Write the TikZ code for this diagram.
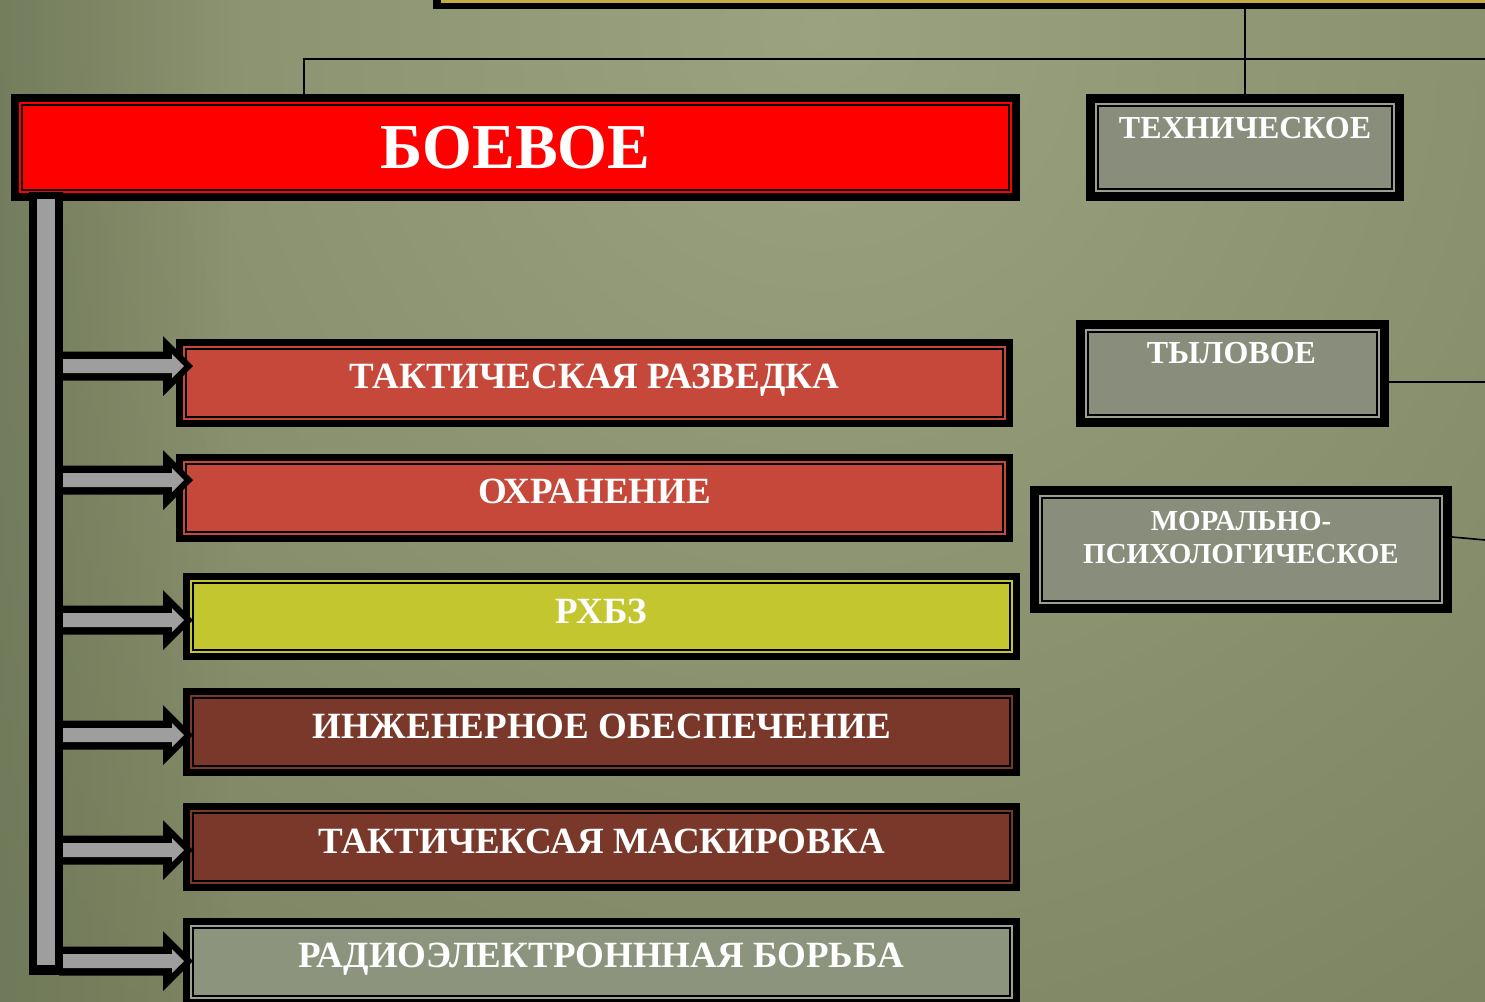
\documentclass[tikz,border=0pt]{standalone}
\usepackage{fontspec}
\setmainfont{Liberation Serif}
\usetikzlibrary{calc,fadings}
\definecolor{bgbase}{RGB}{125,132,97}
\definecolor{bglight}{RGB}{155,162,128}
\definecolor{bgdark}{RGB}{104,114,84}
\definecolor{boxred}{RGB}{197,72,58}
\definecolor{pureRed}{RGB}{255,0,0}
\definecolor{boxyel}{RGB}{196,198,48}
\definecolor{boxbrown}{RGB}{121,56,42}
\definecolor{boxgreen}{RGB}{140,148,126}
\definecolor{boxgray}{RGB}{136,141,124}
\definecolor{stripegray}{RGB}{156,160,146}
\definecolor{bargray}{RGB}{158,158,158}
\definecolor{goldline}{RGB}{196,172,64}
\newcommand\myarrow[1]{%
  \begin{scope}[shift={(#1)}]
    \fill[black] (-127,-14.5) -- (-23,-14.5) -- (-23,-30) -- (7,0) -- (-23,30) -- (-23,14.5) -- (-127,14.5) -- cycle;
    \fill[bargray] (-123,-7) -- (-14,-7) -- (-14,-12) -- (-2,0) -- (-14,12) -- (-14,7) -- (-123,7) -- cycle;
  \end{scope}}
\begin{document}
\begin{tikzpicture}[x=1pt,y=-1pt,
  panel/.style n args={3}{rectangle, inner sep=0pt, outer sep=0pt, fill=black,
    path picture={
      \fill[#2] ([shift={(#3,-#3)}]path picture bounding box.north west) rectangle ([shift={(-#3,#3)}]path picture bounding box.south east);
      \fill[black] ([shift={(#3,-#3)},shift={(2pt,-2pt)}]path picture bounding box.north west) rectangle ([shift={(-#3,#3)},shift={(-2pt,2pt)}]path picture bounding box.south east);
      \fill[#1] ([shift={(#3,-#3)},shift={(3.7pt,-3.7pt)}]path picture bounding box.north west) rectangle ([shift={(-#3,#3)},shift={(-3.7pt,3.7pt)}]path picture bounding box.south east);
    }},
  lbl/.style={text=white, anchor=base, inner sep=0pt, font=\bfseries\fontsize{#1}{#1}\selectfont},
  conn/.style={draw=black, line width=1.6pt}]
\useasboundingbox (0,0) rectangle (1485,1001);
\clip (0,0) rectangle (1485,1001);
% background
\fill[bgbase] (-20,-20) rectangle (1505,1021);
\shade[inner color=bglight, outer color=bgbase] (820,30) circle (1200);
\fill[bgdark, path fading=east, fill opacity=0.7] (-40,-40) rectangle (230,1041);
% top (partly visible) box
\node[fill=black, inner sep=0pt, minimum width=1100pt, minimum height=60pt, anchor=south west] (top) at (433,9) {};
\fill[goldline] (441,-60) rectangle (1500,3);
% boxes
\node[panel={pureRed}{pureRed}{8pt}, minimum width=1009pt, minimum height=107pt] (B0) at (515.5,147.5) {};
\node[panel={boxred}{boxred}{7pt}, minimum width=837pt, minimum height=88pt] (B1) at (594.5,383) {};
\node[panel={boxred}{boxred}{7pt}, minimum width=837pt, minimum height=88pt] (B2) at (594.5,498) {};
\node[panel={boxyel}{boxyel}{7pt}, minimum width=837pt, minimum height=87pt] (B3) at (601.5,616.5) {};
\node[panel={boxbrown}{boxbrown}{7pt}, minimum width=837pt, minimum height=88pt] (B4) at (601.5,732) {};
\node[panel={boxbrown}{boxbrown}{7pt}, minimum width=837pt, minimum height=88pt] (B5) at (601.5,847) {};
\node[panel={boxgreen}{stripegray}{7pt}, minimum width=837pt, minimum height=88pt] (B6) at (601.5,962) {};
\node[panel={boxgray}{stripegray}{9pt}, minimum width=318pt, minimum height=107pt] (R1) at (1245,147.5) {};
\node[panel={boxgray}{stripegray}{9pt}, minimum width=313pt, minimum height=107pt] (R2) at (1232.5,373.5) {};
\node[panel={boxgray}{stripegray}{9pt}, minimum width=422pt, minimum height=127pt] (R3) at (1241,549.5) {};
% connectors
\coordinate (j) at (304,59);
\coordinate (e1) at (1485,59);
\coordinate (e2) at (1485,382);
\coordinate (e3) at (1485,540);
\draw[conn] (top.south -| R1.north) -- (R1.north);
\draw[conn] (B0.north -| j) |- (e1);
\draw[conn] (R2.east |- e2) -- (e2);
\draw[conn] ([yshift=12.5pt]R3.east) -- (e3);
% vertical bar
\node[fill=black, inner sep=0pt, minimum width=34pt, minimum height=783pt, anchor=north west] (bar) at (29,192) {};
\fill[bargray] ([shift={(8pt,-7pt)}]bar.north west) rectangle ([shift={(-8pt,10pt)}]bar.south east);
% arrows from the bar to the boxes
\coordinate (a1) at ($(B1.west)+(10,-17)$);
\coordinate (a2) at ($(B2.west)+(10,-18)$);
\coordinate (a3) at ($(B3.west)+(3,3.5)$);
\coordinate (a4) at ($(B4.west)+(3,3)$);
\coordinate (a5) at ($(B5.west)+(3,3)$);
\coordinate (a6) at ($(B6.west)+(3,-1)$);
\myarrow{a1}\myarrow{a2}\myarrow{a3}\myarrow{a4}\myarrow{a5}\myarrow{a6}
% labels
\node[lbl=64pt] (t0) at ($(B0.center)+(0,20.5)$) {БОЕВОЕ};
\node[lbl=37pt] (t1) at ($(B1.center)+(0,5)$) {ТАКТИЧЕСКАЯ РАЗВЕДКА};
\node[lbl=37pt] (t2) at ($(B2.center)+(0,5)$) {ОХРАНЕНИЕ};
\node[lbl=37pt] (t3) at ($(B3.center)+(0,6.5)$) {РХБЗ};
\node[lbl=37pt] (t4) at ($(B4.center)+(0,6)$) {ИНЖЕНЕРНОЕ ОБЕСПЕЧЕНИЕ};
\node[lbl=37pt] (t5) at ($(B5.center)+(0,6)$) {ТАКТИЧЕКСАЯ МАСКИРОВКА};
\node[lbl=37pt] (t6) at ($(B6.center)+(0,5)$) {РАДИОЭЛЕКТРОНННАЯ БОРЬБА};
\node[lbl=32pt] (r1) at ($(R1.center)+(0,-9.5)$) {ТЕХНИЧЕСКОЕ};
\node[lbl=32pt] (r2) at ($(R2.center)+(-1,-10)$) {ТЫЛОВОЕ};
\node[lbl=29pt] (r3a) at ($(R3.center)+(0,-19.5)$) {МОРАЛЬНО-};
\node[lbl=29pt] (r3b) at ($(R3.center)+(0,13.5)$) {ПСИХОЛОГИЧЕСКОЕ};
\end{tikzpicture}
\end{document}
